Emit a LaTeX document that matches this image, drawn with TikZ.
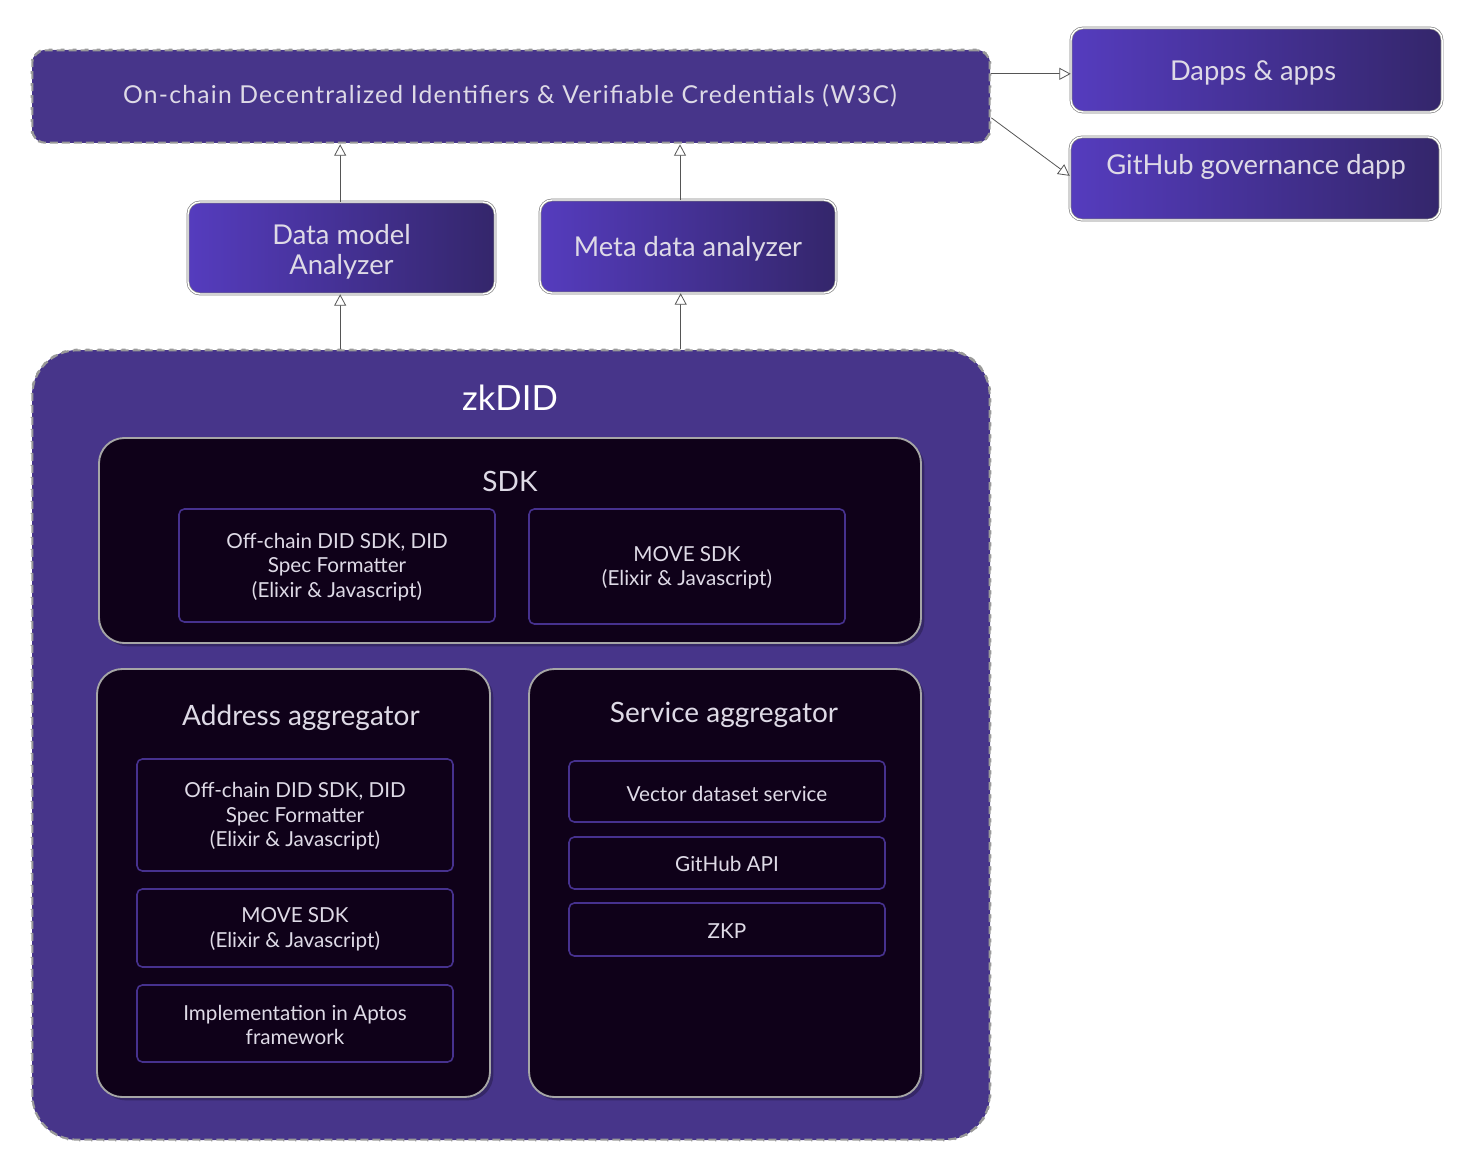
\documentclass[tikz,border=0pt]{standalone}
\usepackage{fontspec}
\setmainfont{Lato}
\newfontfamily\spacedfont[LetterSpace=5]{Lato}
\usetikzlibrary{arrows.meta,fit,shadows}
\definecolor{boxpurple}{HTML}{47358A}
\definecolor{gradleft}{HTML}{553CBE}
\definecolor{gradright}{HTML}{34266B}
\definecolor{darkfill}{HTML}{0F0119}
\definecolor{innerline}{HTML}{46318E}
\definecolor{lighttext}{HTML}{DEDAE6}
\definecolor{arrowgray}{HTML}{555555}
\tikzset{
  gradbox/.style={rounded corners=9pt, left color=gradleft, right color=gradright, draw=gray, double=white, double distance=1.1pt, line width=0.5pt, inner sep=0pt},
  gradtext/.style={text=lighttext, align=center, inner sep=0pt, font=\fontsize{20.5}{22.5}\selectfont},
  darkbox/.style={rounded corners=19pt, fill=darkfill, draw=gray!70, line width=1.4pt, inner sep=0pt, drop shadow={shadow xshift=2.5pt, shadow yshift=-2.5pt, opacity=0.25, fill=black}},
  innerbox/.style={rounded corners=4pt, fill=darkfill, draw=innerline, line width=1.2pt, inner sep=0pt},
  innertext/.style={text=lighttext, align=center, inner sep=0pt, font=\fontsize{15.5}{18.3}\selectfont},
  titletext/.style={text=lighttext, font=\fontsize{21}{22}\selectfont, inner sep=0pt},
  arr/.style={draw=arrowgray, line width=0.6pt, -{Triangle[open, length=8.5pt, width=9pt, fill=white]}},
  panelline/.style={draw=gray!80, line width=2pt, dash pattern=on 6pt off 3pt},
  panelwhite/.style={draw=white, line width=1.1pt, dash pattern=on 6pt off 3pt},
}
\begin{document}
\begin{tikzpicture}[x=0.75pt, y=-0.75pt]
\useasboundingbox (0,0) rectangle (1466,1166);

% top panel
\node[fit={(32,50)(990,143)}, rounded corners=10pt, fill=boxpurple, panelline, inner sep=0pt] (top) {};
\draw[panelwhite, rounded corners=10pt] (top.north west) rectangle (top.south east);
\node[text=lighttext, inner sep=0pt, font=\spacedfont\fontsize{18.5}{21}\selectfont] (toptext) at (510,96) {On-chain Decentralized Identifiers \& Verifiable Credentials (W3C)};

% right boxes
\node[gradbox, fit={(1071,28)(1442,112)}] (dapps) {};
\node[gradtext] (dappstext) at (1253,73) {Dapps \& apps};
\node[gradbox, fit={(1070,137)(1440,220)}] (gh) {};
\node[gradtext] (ghtext) at (1256,167) {GitHub governance dapp};

% analyzers
\node[gradbox, fit={(188,202)(495,294)}] (dm) {};
\node[gradtext] (dmtext) at ([yshift=-2.5pt]dm.center) {Data model\\Analyzer};
\node[gradbox, fit={(540,200)(836,293)}] (meta) {};
\node[gradtext] (metatext) at ([yshift=-2pt]meta.center) {Meta data analyzer};

% zkDID panel
\node[fit={(32,350)(990,1140)}, rounded corners=34pt, fill=boxpurple, panelline, inner sep=0pt] (zk) {};
\draw[panelwhite, rounded corners=34pt] (zk.north west) rectangle (zk.south east);
\node[text=white, font=\fontsize{26}{30}\selectfont] (zktitle) at (510,398) {zkDID};

% SDK
\node[darkbox, fit={(99,438)(921,643)}] (sdk) {};
\node[titletext] (sdktitle) at (510,481) {SDK};
\node[innerbox, fit={(179,509)(495,622)}] (sdk1) {};
\node[innertext] (sdk1text) at ([yshift=-1pt]sdk1.center) {Off-chain DID SDK, DID\\Spec Formatter\\(Elixir \& Javascript)};
\node[innerbox, fit={(529,509)(845,624)}] (sdk2) {};
\node[innertext] (sdk2text) at ([yshift=-1pt]sdk2.center) {MOVE SDK\\(Elixir \& Javascript)};

% Address aggregator
\node[darkbox, fit={(97,669)(490,1097)}] (addr) {};
\node[titletext] (addrtitle) at (301,718) {Address aggregator};
\node[innerbox, fit={(137,759)(453,871)}] (addr1) {};
\node[innertext] (addr1text) at ([yshift=-1pt]addr1.center) {Off-chain DID SDK, DID\\Spec Formatter\\(Elixir \& Javascript)};
\node[innerbox, fit={(137,889)(453,967)}] (addr2) {};
\node[innertext] (addr2text) at ([yshift=-1pt]addr2.center) {MOVE SDK\\(Elixir \& Javascript)};
\node[innerbox, fit={(137,985)(453,1062)}] (addr3) {};
\node[innertext] (addr3text) at ([yshift=-1pt]addr3.center) {Implementation in Aptos\\framework};

% Service aggregator
\node[darkbox, fit={(529,669)(921,1097)}] (serv) {};
\node[titletext] (servtitle) at (724,715) {Service aggregator};
\node[innerbox, fit={(569,761)(885,822)}] (serv1) {};
\node[innertext] (serv1text) at ([yshift=-1.5pt]serv1.center) {Vector dataset service};
\node[innerbox, fit={(569,837)(885,889)}] (serv2) {};
\node[innertext] (serv2text) at ([yshift=-1pt]serv2.center) {GitHub API};
\node[innerbox, fit={(569,903)(885,956)}] (serv3) {};
\node[innertext] (serv3text) at ([yshift=-1pt]serv3.center) {ZKP};

% arrows
\draw[arr] ([xshift=-1pt]dm.north) -- ([xshift=-1pt]dm.north |- top.south);
\draw[arr] ([xshift=-6pt]meta.north) -- ([xshift=-6pt]meta.north |- top.south);
\draw[arr] ([xshift=-1pt]dm.south |- zk.north) -- ([xshift=-1pt]dm.south);
\draw[arr] ([xshift=-5.5pt]meta.south |- zk.north) -- ([xshift=-5.5pt]meta.south);
\draw[arr] ([yshift=17pt]top.east) -- ([yshift=17pt]top.east -| dapps.west);
\draw[arr] ([yshift=-16pt]top.east) -- ([yshift=2pt]gh.west);
\end{tikzpicture}
\end{document}
